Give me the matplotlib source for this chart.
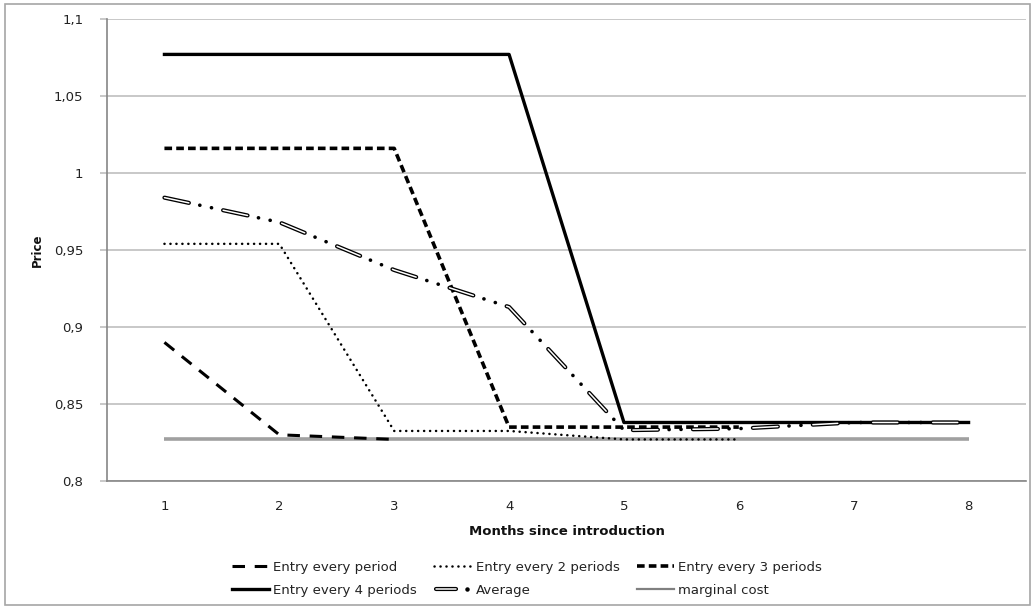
import matplotlib
matplotlib.use("Agg")
import matplotlib.pyplot as plt
import matplotlib.patheffects as pe
from matplotlib.lines import Line2D
from matplotlib.legend_handler import HandlerBase
from matplotlib.ticker import FixedLocator
from matplotlib.patches import Rectangle

plt.rcParams['lines.scale_dashes'] = False

months = [1, 2, 3, 4, 5, 6, 7, 8]
entry_every_1 = [0.890, 0.830, 0.827]
entry_every_2 = [0.954, 0.954, 0.8325, 0.8325, 0.827, 0.827]
entry_every_3 = [1.016, 1.016, 1.016, 0.835, 0.835, 0.835]
entry_every_4 = [1.077, 1.077, 1.077, 1.077, 0.838, 0.838, 0.838, 0.838]
average = [0.984, 0.968, 0.937, 0.913, 0.833, 0.834, 0.838, 0.838]
marginal_cost = [0.827] * 8
y_ticks = [0.8, 0.85, 0.9, 0.95, 1.0, 1.05, 1.1]
y_labels = ["0,8", "0,85", "0,9", "0,95", "1", "1,05", "1,1"]

W, H = 1035, 609
fig = plt.figure(figsize=(W / 100, H / 100), dpi=100)
ax = fig.add_axes([107 / W, 1 - 481 / H, (1026 - 107) / W, (481 - 19) / H])

fig.patches.append(Rectangle((5 / W, 4 / H), (1030 - 5) / W, (605 - 4) / H,
                             transform=fig.transFigure, fill=False,
                             edgecolor='#a6a6a6', linewidth=1.2))

avg_effects = [pe.Stroke(linewidth=3.0, foreground='black'), pe.Normal()]

mc_line, = ax.plot(months, marginal_cost, color='#a0a0a0', lw=2.6,
                   solid_capstyle='butt', zorder=2)
l1, = ax.plot(months[:len(entry_every_1)], entry_every_1, color='black', lw=2.2,
              linestyle=(0, (9, 7)), zorder=3)
l2, = ax.plot(months[:len(entry_every_2)], entry_every_2, color='black', lw=1.8,
              linestyle=(0, (0.1, 4.2)), dash_capstyle='round', zorder=3)
l3, = ax.plot(months[:len(entry_every_3)], entry_every_3, color='black', lw=2.6,
              linestyle=(0, (5.5, 3)), zorder=3)
l4, = ax.plot(months, entry_every_4, color='black', lw=2.4, zorder=3)
avg_dash, = ax.plot(months, average, color='white', lw=1.1,
                    linestyle=(0, (18, 25.2)), dash_capstyle='round',
                    path_effects=avg_effects, zorder=4)
ax.plot(months, average, color='black', lw=2.6,
        linestyle=(17.2, (0.1, 8.5, 0.1, 34.5)), dash_capstyle='round', zorder=4)


class AverageHandler(HandlerBase):
    def create_artists(self, legend, orig_handle, xdescent, ydescent,
                       width, height, fontsize, trans):
        y = height / 2 - ydescent
        x0 = -xdescent
        dash = Line2D([x0 + 0.05 * width, x0 + 0.6 * width], [y, y], color='white',
                      lw=1.1, solid_capstyle='round', path_effects=avg_effects,
                      transform=trans)
        dot = Line2D([x0 + 0.9 * width], [y], marker='o', markersize=2.2,
                     color='black', linestyle='None', transform=trans)
        return [dash, dot]


ax.set_xlim(0.5, 8.5)
ax.set_ylim(0.8, 1.1)
ax.yaxis.set_major_locator(FixedLocator(y_ticks))
ax.set_yticklabels(y_labels)
ax.set_xticks(months)
ax.set_xticklabels([str(m) for m in months])
ax.grid(axis='y', color='#bfbfbf', lw=1.2)
ax.set_axisbelow(True)
for s in ['top', 'right']:
    ax.spines[s].set_visible(False)
for s in ['left', 'bottom']:
    ax.spines[s].set_color('#868686')
    ax.spines[s].set_linewidth(1.2)
ax.tick_params(axis='y', length=5, color='#bfbfbf', width=1.2, pad=12,
               labelsize=9.5, labelcolor='#222222')
ax.tick_params(axis='x', length=0, pad=14, labelsize=9.5, labelcolor='#222222')
for t in ax.get_xticklabels() + ax.get_yticklabels():
    t.set_fontfamily('DejaVu Sans')

ax.set_xlabel('Months since introduction', fontfamily='DejaVu Sans', fontweight='bold',
              fontsize=9.5, labelpad=8, color='#111111')
fig.text(37 / W, 1 - 250 / H, 'Price', rotation=90, fontfamily='DejaVu Sans',
         fontweight='bold', fontsize=8.5, ha='center', va='center', color='#111111')

leg_mc = Line2D([], [], color='#808080', lw=1.6)

handles = [l1, l4, l2, avg_dash, l3, leg_mc]
labels = ['Entry every period', 'Entry every 4 periods', 'Entry every 2 periods',
          'Average', 'Entry every 3 periods', 'marginal cost']
leg = fig.legend(handles, labels, ncol=3, loc='center',
                 bbox_to_anchor=(527 / W, 1 - 579 / H), frameon=False,
                 prop={'family': 'DejaVu Sans', 'size': 9.5}, handlelength=2.8,
                 handletextpad=0.35, columnspacing=1.3, labelspacing=0.75,
                 handler_map={avg_dash: AverageHandler()})
for t in leg.get_texts():
    t.set_color('#222222')

fig.savefig('out.png', dpi=100)
